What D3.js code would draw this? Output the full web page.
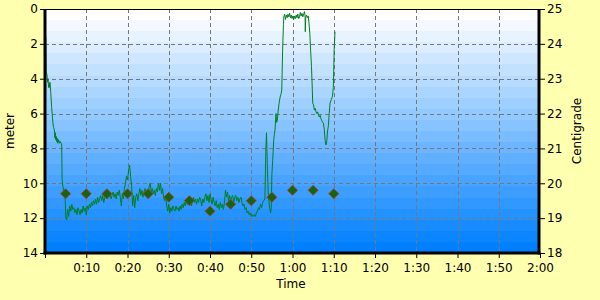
<!DOCTYPE html>
<html><head><meta charset="utf-8">
<script src="https://cdn.jsdelivr.net/npm/d3@7"></script>
<style>html,body{margin:0;padding:0;background:#ffffb0;}svg{display:block;}</style>
</head><body><svg id="c" width="600" height="300"></svg>
<script>
// ---- data ----
const timeTicks = [0,10,20,30,40,50,60,70,80,90,100,110,120];
const timeTickLabels = ["","0:10","0:20","0:30","0:40","0:50","1:00","1:10","1:20","1:30","1:40","1:50","2:00"];
const depthTicks = [0,2,4,6,8,10,12,14];
const tempTicks = [18,19,20,21,22,23,24,25];
// depth samples: [minutes, meters]
const depthSamples = [
[0.2,1.6],[0.25,2.5],[0.3,3.6],[0.5,3.8],[0.6,4.2],[0.75,4.0],[0.85,4.5],[1.0,4.3],[1.1,4.5],[1.2,4.2],[1.4,4.8],[1.6,5.6],[1.8,6.2],[1.95,6.6],[2.1,6.8],[2.3,7.0],[2.4,7.4],[2.5,7.1],[2.6,7.5],[2.7,7.3],[2.8,7.6],[2.95,7.4],[3.1,7.7],[3.3,7.5],[3.5,7.7],[3.7,7.6],[3.9,7.7],[4.05,7.8],
[4.15,9.8],[4.35,10.2],[4.5,10.4],[4.8,10.5],[4.9,11.0],[5.05,12.0],[5.25,12.1],
[5.5,11.5],[5.75,11.9],[6.0,11.3],[6.25,11.6],[6.5,11.2],[6.75,11.5],[7.0,11.4],[7.25,11.7],[7.5,11.5],[7.75,11.8],[8.0,11.4],[8.25,11.6],[8.5,11.8],[8.75,11.5],[9.0,11.7],[9.25,11.3],[9.5,11.6],[9.75,11.4],[10.0,11.8],[10.25,11.3],[10.5,11.5],[10.75,11.2],[11.0,11.4],[11.25,11.1],[11.5,11.3],[11.75,11.0],[12.0,11.2],[12.25,10.9],[12.5,11.2],[12.75,10.8],[13.0,11.1],[13.25,10.9],[13.5,10.7],[13.75,11.0],[14.0,10.7],[14.25,11.1],[14.5,10.8],[14.75,10.6],[15.0,10.9],[15.25,10.6],[15.5,10.8],[15.75,10.5],[16.0,10.9],[16.25,10.7],[16.5,10.5],[16.75,10.8],[17.0,10.6],[17.25,10.9],[17.5,10.5],[17.75,10.7],[18.0,10.4],[18.25,10.8],[18.5,11.3],[18.75,10.6],[19.0,10.9],[19.25,10.3],[19.5,10.0],[19.75,9.6],[20.0,9.8],[20.25,9.3],[20.5,8.95],[20.75,9.6],[21.0,10.2],[21.25,11.3],[21.5,10.7],[21.75,11.4],[22.0,10.8],[22.25,10.6],[22.5,11.0],[22.75,10.6],[23.0,10.3],[23.25,10.7],[23.5,10.4],[23.75,10.8],[24.0,10.5],[24.25,10.3],[24.5,10.6],[24.75,10.4],[25.0,10.7],[25.25,10.2],[25.5,10.0],[25.75,10.5],[26.0,10.3],[26.25,10.6],[26.5,10.4],[26.75,10.7],[27.0,10.3],[27.25,10.5],[27.5,10.0],[27.75,10.4],[28.0,10.0],[28.25,10.6],[28.5,10.3],[28.75,10.8],[29.0,11.0],[29.25,10.7],[29.5,11.3],[29.75,11.6],[30.0,11.2],[30.25,11.7],[30.5,11.4],[30.75,11.6],[31.0,11.3],[31.25,11.5],[31.5,11.6],[31.75,11.3],[32.0,11.5],[32.25,11.4],[32.5,11.6],[32.75,11.3],[33.0,11.5],[33.25,11.2],[33.5,11.4],[33.75,11.1],[34.0,11.3],[34.25,11.0],[34.5,11.2],[34.75,10.9],[35.0,11.2],[35.25,10.9],[35.5,11.3],[35.75,11.0],[36.0,10.8],[36.25,11.1],[36.5,10.9],[36.75,11.2],[37.0,10.9],[37.25,11.1],[37.5,10.8],[37.75,11.0],[38.0,11.3],[38.25,10.9],[38.5,11.1],[38.75,10.8],[39.0,10.6],[39.25,11.0],[39.5,10.7],[39.75,11.1],[40.0,10.6],[40.25,10.9],[40.5,11.2],[40.75,10.8],[41.0,11.1],[41.25,11.3],[41.5,11.0],[41.75,11.4],[42.0,11.2],[42.25,11.5],[42.5,11.1],[42.75,11.4],[43.0,11.2],[43.25,11.5],[43.5,11.1],[43.75,10.4],[44.0,10.8],[44.25,10.5],[44.5,11.0],[44.75,10.7],[45.0,11.0],[45.25,10.8],[45.5,10.7],[45.75,11.1],[46.0,10.8],[46.25,10.7],[46.5,11.0],[46.75,10.8],[47.0,11.1],[47.25,10.9],[47.5,10.8],[47.75,11.1],[48.0,11.3],[48.25,11.2],[48.5,11.5],[48.75,11.4],[49.0,11.7],[49.25,11.6],[49.5,11.8],[49.75,11.7],[50.0,11.9],[50.25,11.8],[50.5,11.9],[50.75,11.8],[51.0,11.9],[51.25,11.7],[51.5,11.6],[51.75,11.4],[52.0,11.5],[52.25,11.2],[52.5,11.4],[52.75,11.1],[53.0,11.0],
[53.3,10.9],[53.55,8.0],[53.7,7.1],[53.9,9.0],[54.1,10.5],[54.4,11.3],[54.7,11.7],[54.85,11.4],[55.0,9.5],[55.2,8.7],[55.45,7.5],[55.6,7.2],[55.75,6.95],[56.0,6.0],[56.15,6.5],[56.3,6.4],[56.5,5.9],[56.75,5.4],[57.0,5.05],[57.2,4.9],[57.4,4.65],[57.6,2.4],[57.8,0.9],[57.9,0.45],
[58.1,0.3],[58.3,0.6],[58.5,0.35],[58.7,0.5],[58.9,0.3],[59.1,0.45],[59.3,0.25],[59.5,0.5],[59.7,0.35],[59.9,0.55],[60.1,0.4],[60.3,0.6],[60.5,0.4],[60.7,0.55],[60.9,0.35],[61.1,0.5],[61.3,0.3],[61.5,0.55],[61.7,0.45],[61.9,0.2],[62.1,0.4],[62.3,0.25],[62.5,0.45],[62.7,0.3],[62.9,0.15],[63.05,0.4],[63.1,1.3],[63.2,0.5],[63.4,0.35],[63.6,0.5],[63.8,0.4],
[64.0,0.8],[64.2,1.4],[64.4,2.4],[64.6,3.3],[64.8,4.6],[64.9,5.4],[65.1,5.5],[65.3,5.8],[65.5,5.7],[65.7,5.9],[65.9,6.0],[66.1,5.9],[66.3,6.1],[66.5,6.2],[66.7,6.1],[66.9,6.3],[67.1,6.4],[67.3,6.5],[67.5,6.55],[67.7,6.9],[67.9,7.5],[68.1,7.8],[68.3,7.6],[68.5,7.0],[68.7,6.7],[68.9,6.0],[69.1,5.4],[69.4,5.2],[69.7,5.0],[69.9,4.5],[70.1,2.35],[70.3,1.3]
];
const tempTimes = [5,10,15,20,25,30,35,40,45,50,55,60,65,70];
const tempValues = [19.7,19.7,19.7,19.7,19.7,19.6,19.5,19.2,19.4,19.5,19.6,19.8,19.8,19.7];

// ---- layout ----
const L=45, R=540, T=9, B=253;
const svg = d3.select("#c");
const font = "DejaVu Sans, Verdana, sans-serif";
const FS = 12;
const x = d3.scaleLinear().domain([0,120]).range([L,R]);
const yD = d3.scaleLinear().domain([0,14]).range([T,B]);
const yT = d3.scaleLinear().domain([18,25]).range([B,T]);

// banded gradient background
const defs = svg.append("defs");
const grad = defs.append("linearGradient").attr("id","bg").attr("x1",0).attr("y1",0).attr("x2",0).attr("y2",1);
const nb = 22, ci = d3.interpolateRgb("#ffffff","#0080ff");
for(let i=0;i<nb;i++){
  const c = ci(i/(nb-1));
  grad.append("stop").attr("offset",i/nb).attr("stop-color",c);
  grad.append("stop").attr("offset",(i+1)/nb).attr("stop-color",c);
}
svg.append("rect").attr("x",L).attr("y",T).attr("width",R-L).attr("height",B-T).attr("fill","url(#bg)");

// grid
const g = svg.append("g").attr("stroke","#777").attr("stroke-width",1).attr("stroke-dasharray","4,3");
timeTicks.slice(1,-1).forEach(t=>g.append("line").attr("x1",Math.round(x(t))+0.5).attr("x2",Math.round(x(t))+0.5).attr("y1",T).attr("y2",B));
depthTicks.slice(1,-1).forEach(d=>g.append("line").attr("y1",Math.round(yD(d))+0.5).attr("y2",Math.round(yD(d))+0.5).attr("x1",L).attr("x2",R));

// depth line
const clip = defs.append("clipPath").attr("id","clip");
clip.append("rect").attr("x",L).attr("y",T).attr("width",R-L).attr("height",B-T);
svg.append("path").datum(depthSamples).attr("clip-path","url(#clip)")
  .attr("fill","none").attr("stroke","#008020").attr("stroke-width",1)
  .attr("d", d3.line().x(d=>x(d[0])).y(d=>yD(d[1])));

// temperature diamonds
svg.append("g").selectAll("path").data(tempTimes.map((t,i)=>[t,tempValues[i]])).join("path")
  .attr("transform",d=>`translate(${x(d[0])},${yT(d[1])})`)
  .attr("d","M0,-5L5,0L0,5L-5,0Z")
  .attr("fill","#146410").attr("stroke","#a0402a").attr("stroke-width",1);

// frame
svg.append("line").attr("x1",L).attr("x2",R).attr("y1",T+0.5).attr("y2",T+0.5).attr("stroke","#000");
svg.append("line").attr("x1",L).attr("x2",L).attr("y1",T).attr("y2",B+1.5).attr("stroke","#000").attr("stroke-width",3);
svg.append("line").attr("x1",R-1).attr("x2",R-1).attr("y1",T).attr("y2",B+1.5).attr("stroke","#000").attr("stroke-width",3);
svg.append("line").attr("x1",L-1.5).attr("x2",R+0.5).attr("y1",B).attr("y2",B).attr("stroke","#000").attr("stroke-width",3);

// axes
const axL = d3.axisLeft(yD).tickValues(depthTicks).tickSize(4).tickPadding(2).tickFormat(d3.format("d"));
const axR = d3.axisRight(yT).tickValues(tempTicks).tickSize(5).tickPadding(2).tickFormat(d3.format("d"));
const axB = d3.axisBottom(x).tickValues(timeTicks).tickSize(4).tickPadding(5).tickFormat((d,i)=>timeTickLabels[i]);
function style(sel){
  sel.select(".domain").remove();
  sel.selectAll("line").attr("stroke","#000");
  sel.selectAll("text").attr("font-family",font).attr("font-size",FS).attr("fill","#000");
}
svg.append("g").attr("transform",`translate(${L-1},0)`).call(axL).call(style);
svg.append("g").attr("transform",`translate(${R},0)`).call(axR).call(style);
svg.append("g").attr("transform",`translate(0,${B+1})`).call(axB).call(style);

// titles
svg.append("text").attr("x",291).attr("y",288).attr("text-anchor","middle").attr("font-family",font).attr("font-size",FS).text("Time");
svg.append("text").attr("transform",`translate(14,${(T+B)/2}) rotate(-90)`).attr("text-anchor","middle").attr("font-family",font).attr("font-size",FS).text("meter");
svg.append("text").attr("transform",`translate(581,${(T+B)/2}) rotate(-90)`).attr("text-anchor","middle").attr("font-family",font).attr("font-size",FS).text("Centigrade");
</script></body></html>
